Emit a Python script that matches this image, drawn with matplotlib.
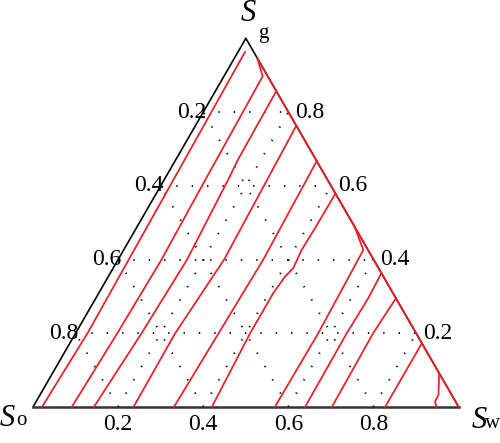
import numpy as np
import matplotlib
matplotlib.use("Agg")
import matplotlib.pyplot as plt

# ---- data: contour lines as (Sg, Sw) polylines ----
c1_sg = [0.0, 0.2, 0.4, 0.6, 0.963]
c1_sw = [0.021, 0.028, 0.025, 0.022, 0.0165]
c2_sg = [0.0, 0.2, 0.4, 0.6, 0.80, 0.897, 0.946]
c2_sw = [0.091, 0.098, 0.102, 0.097, 0.093, 0.091, 0.054]
c3_sg = [0.0, 0.2, 0.4, 0.62, 0.67, 0.857]
c3_sw = [0.143, 0.155, 0.162, 0.150, 0.146, 0.143]
c4_sg = [0.0, 0.2, 0.4, 0.763]
c4_sw = [0.236, 0.234, 0.249, 0.237]
c5_sg = [0.0, 0.2, 0.4, 0.667]
c5_sw = [0.331, 0.336, 0.341, 0.333]
c6_sg = [0.0, 0.2, 0.309, 0.353, 0.377, 0.426, 0.4855, 0.579]
c6_sw = [0.42, 0.41, 0.41, 0.415, 0.423, 0.418, 0.42, 0.421]
c7_sg = [0.0, 0.2, 0.426, 0.489]
c7_sw = [0.568, 0.57, 0.563, 0.511]
c8_sg = [0.0, 0.2, 0.295, 0.363]
c8_sw = [0.639, 0.637, 0.640, 0.637]
c9_sg = [0.0, 0.2, 0.295]
c9_sw = [0.702, 0.699, 0.705]
c10_sg = [0.0, 0.173]
c10_sw = [0.827, 0.827]
c11_sg = [0.0, 0.0144, 0.033, 0.092]
c11_sw = [0.948, 0.937, 0.936, 0.908]
edge_sg = [0.946, 0.0]
edge_sw = [0.054, 1.0]

contours = [(c1_sg, c1_sw), (c2_sg, c2_sw), (c3_sg, c3_sw), (c4_sg, c4_sw),
            (c5_sg, c5_sw), (c6_sg, c6_sw), (c7_sg, c7_sw), (c8_sg, c8_sw),
            (c9_sg, c9_sw), (c10_sg, c10_sw), (c11_sg, c11_sw), (edge_sg, edge_sw)]

grid_vals = [0.2, 0.4, 0.6, 0.8]
left_labels = ["0.2", "0.4", "0.6", "0.8"]     # So, at Sg = 1 - So
right_labels = ["0.8", "0.6", "0.4", "0.2"]    # Sg
bottom_labels = ["0.2", "0.4", "0.6", "0.8"]   # Sw

H = np.sqrt(3) / 2


def tern(sg, sw):
    sg = np.asarray(sg, float)
    sw = np.asarray(sw, float)
    return sw + sg / 2, sg * H


fig = plt.figure(figsize=(5.0, 4.43), dpi=100)
ax = fig.add_axes([0, 0, 1, 1])
S = 425.7
ax.set_xlim(-33 / S, (500 - 33) / S)
ax.set_ylim((407 - 443) / S, 407 / S)
ax.axis("off")

# dotted grid
dot = dict(color="#111111", lw=1.4, linestyle=(0, (0.7, 7.2)))
for v in grid_vals:
    x, y = tern([v, v], [0, 1 - v])          # constant Sg
    ax.plot(x, y, **dot)
    x, y = tern([0, 1 - v], [v, v])          # constant Sw
    ax.plot(x, y, **dot)
    x, y = tern([0, 1 - v], [1 - v, 0])      # constant So
    ax.plot(x, y, **dot)

# triangle edges
x, y = tern([0, 1], [0, 0])
ax.plot(x, y, color="black", lw=1.2, solid_capstyle="butt")
x, y = tern([1, 0], [0, 1])
ax.plot(x, y, color="black", lw=1.2)
x, y = tern([0, 0], [0, 1])
ax.plot(x, y, color="#333333", lw=1.8)

# red contours
for sg, sw in contours:
    x, y = tern(sg, sw)
    ax.plot(x, y, color="#ee1c24", lw=1.25)

serif = "Liberation Serif"
fs = 17
px = 1 / S
for v, lab in zip(grid_vals[::-1], left_labels):
    x, y = tern(v, 0)
    ax.text(x + 3 * px, y, lab, ha="right", va="center", fontsize=fs, family=serif)
for v, lab in zip(grid_vals[::-1], right_labels):
    x, y = tern(v, 1 - v)
    ax.text(x + 7 * px, y, lab, ha="left", va="center", fontsize=fs, family=serif)
for v, lab in zip(grid_vals, bottom_labels):
    x, y = tern(0, v)
    ax.text(x, y - 18 * px, lab, ha="center", va="center", fontsize=fs, family=serif)

# vertex labels
def vlabel(xs, ys, sub, xsub, ysub):
    ax.text((xs - 33) / S, (407 - ys) / S, "S", ha="center", va="center",
            fontsize=22, family=serif, style="italic")
    ax.text((xsub - 33) / S, (407 - ysub) / S, sub, ha="center", va="baseline",
            fontsize=15, family=serif)

vlabel(248, 13, "g", 263, 38)
vlabel(7, 419, "o", 21, 425)
vlabel(479, 420, "w", 493, 428)

fig.savefig("out.png", dpi=100)
